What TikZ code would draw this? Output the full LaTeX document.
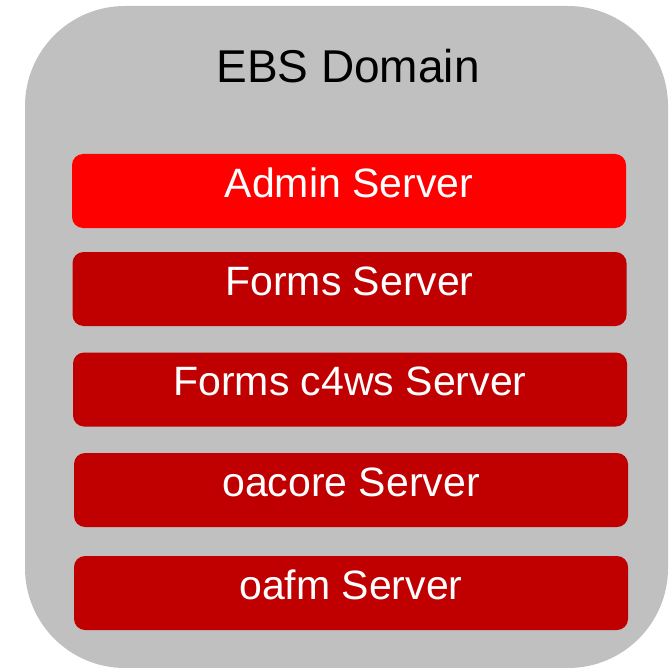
\documentclass[tikz,border=0pt]{standalone}
\usepackage{fontspec}
\setmainfont{Liberation Sans}
\definecolor{domgray}{HTML}{C0C0C0}
\definecolor{adminred}{HTML}{FF0000}
\definecolor{srvred}{HTML}{C00000}
\begin{document}
\begin{tikzpicture}[x=1pt,y=-1pt,
  srvbox/.style={fill=srvred,rounded corners=11pt,inner sep=0pt,
    minimum height=74pt,text=white,font=\fontsize{41}{41}\selectfont,
    text height=22pt,text depth=10pt},
  domainbox/.style={fill=domgray,rounded corners=100pt,inner sep=0pt}]
\useasboundingbox (0,0) rectangle (668,668);
\node[domainbox,minimum width=643pt,minimum height=662pt] (domain) at (346.5,337) {};
\node[font=\fontsize{46}{46}\selectfont,anchor=base] (title) at (348,83) {EBS Domain};
\node[srvbox,fill=adminred,minimum width=554pt] (admin) at (349,191) {Admin Server};
\node[srvbox,minimum width=554pt] (forms) at (349.5,289) {Forms Server};
\node[srvbox,minimum width=554pt] (c4ws) at (350,389.5) {Forms c4ws Server};
\node[srvbox,minimum width=554pt] (oacore) at (351,490) {oacore Server};
\node[srvbox,minimum width=554pt] (oafm) at (351,593) {oafm Server};
\end{tikzpicture}
\end{document}
